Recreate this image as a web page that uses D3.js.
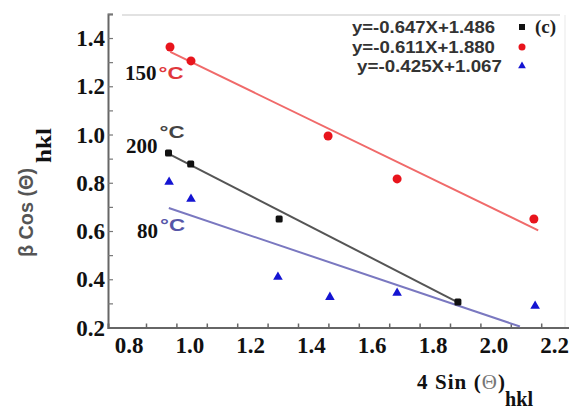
<!DOCTYPE html>
<html><head><meta charset="utf-8">
<script src="https://cdn.jsdelivr.net/npm/d3@7"></script>
<style>body{margin:0;background:#fff}svg{display:block}</style>
</head><body>
<svg id="c" width="569" height="410"></svg>
<script>
// Data
const xRed = [0.879, 0.948, 1.399, 1.626, 2.076];
const yRed = [1.363, 1.305, 0.994, 0.816, 0.650];
const xBlack = [0.874, 0.947, 1.238, 1.826];
const yBlack = [0.923, 0.878, 0.650, 0.306];
const xBlue = [0.876, 0.948, 1.234, 1.405, 1.626, 2.080];
const yBlue = [0.803, 0.733, 0.409, 0.326, 0.343, 0.289];
// linear fits: slope, intercept, x-range
const fitSlopes = [-0.647, -0.611, -0.425];
const fitIntercepts = [1.486, 1.880, 1.067];
const fitFrom = [0.875, 0.880, 0.875];
const fitTo = [1.826, 2.090, 2.030];
const fitLabels = ["y=-0.647X+1.486", "y=-0.611X+1.880", "y=-0.425X+1.067"];
const tempLabels = ["200", "150", "80"];
const xTicks = [0.8, 1.0, 1.2, 1.4, 1.6, 1.8, 2.0, 2.2];
const yTicks = [0.2, 0.4, 0.6, 0.8, 1.0, 1.2, 1.4];

const svg = d3.select("#c");
const x = d3.scaleLinear().domain([0.675, 2.2]).range([108, 571.6]);
const y = d3.scaleLinear().domain([0.2, 1.5]).range([327.5, 13.9]);
const serif = "'Liberation Serif','Times New Roman',serif";
const sans = "'Liberation Sans',Arial,sans-serif";

// frame
svg.append("line").attr("x1", 122).attr("x2", 560).attr("y1", 15).attr("y2", 15)
  .attr("stroke", "#e2e2e2").attr("stroke-width", 2);
svg.append("line").attr("x1", 565).attr("x2", 565).attr("y1", 15).attr("y2", 328)
  .attr("stroke", "#f0f0f0").attr("stroke-width", 1.5);

// axes
const minorX = d3.range(8, 23).map(d => d / 10);
const minorY = d3.range(3, 16).map(d => d / 10);
const gx = svg.append("g").attr("transform", `translate(0,${y(0.2)})`)
  .call(d3.axisBottom(x).tickValues(minorX).tickSize(-4).tickFormat(""));
gx.select(".domain").attr("stroke", "#666").attr("stroke-width", 2);
gx.selectAll(".tick line").attr("stroke", "#666").attr("stroke-width", 1.5);
const gy = svg.append("g").attr("transform", `translate(${x(0.675)},0)`)
  .call(d3.axisLeft(y).tickValues(minorY).tickSize(-5).tickFormat(""));
gy.select(".domain").attr("stroke", "#666").attr("stroke-width", 2);
gy.selectAll(".tick line").attr("stroke", "#777").attr("stroke-width", 1.2);

// tick labels
svg.append("g").selectAll("text").data(xTicks).join("text")
  .attr("x", d => x(d) - 17).attr("y", 353)
  .attr("text-anchor", "middle").attr("font-family", serif).attr("font-weight", "bold")
  .attr("font-size", 23).attr("fill", "#111").text(d => d.toFixed(1));
svg.append("g").selectAll("text").data(yTicks).join("text")
  .attr("x", 105).attr("y", d => y(d) + 8)
  .attr("text-anchor", "end").attr("font-family", serif).attr("font-weight", "bold")
  .attr("font-size", 23).attr("fill", "#111").text(d => d.toFixed(1));

// axis titles
const xt = svg.append("text").attr("x", 417).attr("y", 389)
  .attr("font-family", serif).attr("font-weight", "bold").attr("font-size", 21).attr("fill", "#111")
  .attr("textLength", 88).attr("lengthAdjust", "spacing");
xt.append("tspan").text("4 Sin (");
xt.append("tspan").attr("fill", "#777").attr("font-weight", "normal").text("Θ");
xt.append("tspan").text(")");
svg.append("text").attr("x", 505).attr("y", 406)
  .attr("font-family", serif).attr("font-weight", "bold").attr("font-size", 21).attr("fill", "#111")
  .attr("textLength", 28).attr("lengthAdjust", "spacingAndGlyphs")
  .text("hkl");
svg.append("text").attr("transform", "translate(33,257) rotate(-90)")
  .attr("font-family", sans).attr("font-weight", "bold").attr("font-size", 20).attr("fill", "#555")
  .attr("textLength", 89).attr("lengthAdjust", "spacingAndGlyphs")
  .text("β Cos (Θ)");
svg.append("text").attr("transform", "translate(51,163) rotate(-90)")
  .attr("font-family", serif).attr("font-weight", "bold").attr("font-size", 21).attr("fill", "#111")
  .attr("textLength", 35).attr("lengthAdjust", "spacingAndGlyphs")
  .text("hkl");

// fit lines
const lineColors = ["#555", "#f06a6a", "#7a78c0"];
[0, 1, 2].forEach(i => {
  svg.append("line")
    .attr("x1", x(fitFrom[i])).attr("y1", y(fitSlopes[i] * fitFrom[i] + fitIntercepts[i]))
    .attr("x2", x(fitTo[i])).attr("y2", y(fitSlopes[i] * fitTo[i] + fitIntercepts[i]))
    .attr("stroke", lineColors[i]).attr("stroke-width", 2);
});

// markers
const tri = d3.symbol().type(d3.symbolTriangle).size(40);
svg.append("g").selectAll("path").data(d3.zip(xBlue, yBlue)).join("path")
  .attr("d", tri).attr("transform", d => `translate(${x(d[0])},${y(d[1])})`).attr("fill", "#1414d2");
svg.append("g").selectAll("circle").data(d3.zip(xRed, yRed)).join("circle")
  .attr("cx", d => x(d[0])).attr("cy", d => y(d[1])).attr("r", 4.5).attr("fill", "#e8141c");
svg.append("g").selectAll("rect").data(d3.zip(xBlack, yBlack)).join("rect")
  .attr("x", d => x(d[0]) - 3.5).attr("y", d => y(d[1]) - 3.5).attr("width", 7).attr("height", 7)
  .attr("rx", 1.5).attr("fill", "#111");

// temperature annotations
const tAnn = [
  {t: tempLabels[1], x: 125, y: 80, dy: 79, col: "#e0383c"},
  {t: tempLabels[0], x: 126, y: 153, dy: 138, col: "#444"},
  {t: tempLabels[2], x: 137, y: 238, dy: 231, col: "#5656a8"}
];
tAnn.forEach(a => {
  const n = svg.append("text").attr("x", a.x).attr("y", a.y).attr("font-family", serif)
    .attr("font-weight", "bold").attr("font-size", 21).attr("fill", "#111").text(a.t);
  const w = n.node().getComputedTextLength();
  svg.append("text").attr("x", a.x + w + 2).attr("y", a.dy).attr("font-family", sans)
    .attr("font-weight", "bold").attr("font-size", 17).attr("fill", a.col)
    .attr("textLength", 25).attr("lengthAdjust", "spacingAndGlyphs").text("°C");
});

// legend
const legY = [27, 47, 66];
const legRight = [495, 495, 502];
const legLeft = [352, 352, 357];
fitLabels.forEach((s, i) => {
  svg.append("text").attr("x", legLeft[i]).attr("y", legY[i] + 6)
    .attr("font-family", sans).attr("font-weight", "bold").attr("font-size", 17).attr("fill", "#333")
    .attr("textLength", legRight[i] - legLeft[i]).attr("lengthAdjust", "spacingAndGlyphs").text(s);
});
svg.append("rect").attr("x", 519).attr("y", legY[0] - 3).attr("width", 6).attr("height", 6).attr("fill", "#111");
svg.append("circle").attr("cx", 522).attr("cy", legY[1]).attr("r", 3.5).attr("fill", "#e8141c");
svg.append("path").attr("d", d3.symbol().type(d3.symbolTriangle).size(26))
  .attr("transform", `translate(522,${legY[2]})`).attr("fill", "#1414d2");
svg.append("text").attr("x", 535).attr("y", legY[0] + 6).attr("font-family", serif)
  .attr("font-weight", "bold").attr("font-size", 19).attr("fill", "#222").text("(c)");
</script>
</body></html>
